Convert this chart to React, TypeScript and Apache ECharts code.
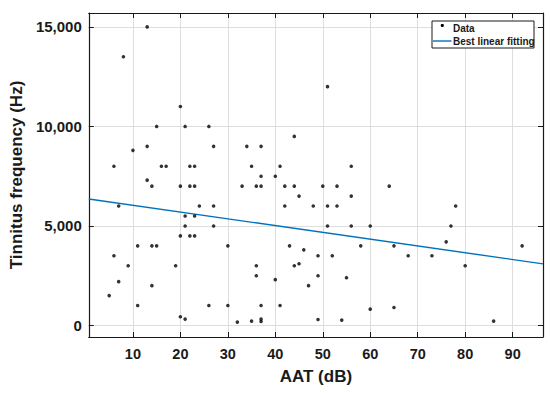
import React, { useEffect, useRef } from "react";
import * as echarts from "echarts";

// AAT (dB) and tinnitus frequency (Hz) per subject
const aatValues = [
  13, 8, 20, 15, 21, 51, 26, 13, 10, 6, 16, 17, 22, 23, 13, 14, 20, 22, 23, 7,
  24, 21, 23, 21, 20, 22, 23, 11, 14, 15, 44, 27, 34, 37, 35, 41, 56, 37, 40, 33,
  36, 37, 42, 44, 50, 53, 45, 56, 27, 42, 48, 51, 53, 27, 51, 56, 60, 30, 43, 46,
  58, 64, 78, 77, 76, 65, 92, 6, 9, 19, 7, 14, 5, 11, 20, 21, 49, 52, 36, 44,
  45, 36, 49, 40, 55, 47, 26, 30, 37, 41, 60, 32, 35, 37, 37, 49, 54, 68, 73, 80,
  65, 86,
];
const freqValues = [
  15000, 13500, 11000, 10000, 10000, 12000, 10000, 9000, 8800, 8000, 8000, 8000, 8000, 8000, 7300, 7000, 7000, 7000, 7000, 6000,
  6000, 5500, 5500, 5000, 4500, 4500, 4500, 4000, 4000, 4000, 9500, 9000, 9000, 9000, 8000, 8000, 8000, 7500, 7500, 7000,
  7000, 7000, 7000, 7000, 7000, 7000, 6500, 6500, 6000, 6000, 6000, 6000, 6000, 5000, 5000, 5000, 5000, 4000, 4000, 3800,
  4000, 7000, 6000, 5000, 4200, 4000, 4000, 3500, 3000, 3000, 2200, 2000, 1500, 1000, 440, 320, 3500, 3500, 3000, 3000,
  3100, 2500, 2500, 2300, 2400, 2000, 1000, 1000, 1000, 1000, 820, 170, 220, 320, 200, 300, 270, 3500, 3500, 3000,
  900, 220,
];
// Best linear fitting line, endpoints at the axis limits
const fitAat = [0.7, 96.4];
const fitFreq = [6356, 3095];

const xMin = 0.7;
const xMax = 96.4;
const yMin = -580;
const yMax = 15700;

export default function App() {
  const ref = useRef<HTMLDivElement>(null);
  useEffect(() => {
    const chart = echarts.init(ref.current!, null, { renderer: "svg" });
    const font = "'Liberation Sans', Arial, Helvetica, sans-serif";
    const ink = "#1a1a1a";
    const gridColor = "#dedede";
    const blue = "#0072BD";

    const scatterData = aatValues.map((x, i) => [x, freqValues[i]]);
    const fitData = fitAat.map((x, i) => [x, fitFreq[i]]);

    const tickStyle = { show: true, inside: true, length: 5, lineStyle: { color: ink, width: 1 } };
    const lineStyle = { show: true, onZero: false, lineStyle: { color: ink, width: 1.2 } };

    chart.setOption({
      animation: false,
      backgroundColor: "#ffffff",
      grid: { left: 80, top: 13, width: 463, height: 324, containLabel: false },
      xAxis: [
        {
          type: "value",
          min: xMin,
          max: xMax,
          splitNumber: 10,
          position: "bottom",
          axisLine: lineStyle,
          axisTick: tickStyle,
          splitLine: { show: true, lineStyle: { color: gridColor, width: 1 } },
          axisLabel: {
            margin: 9,
            color: ink,
            fontFamily: font,
            fontWeight: "bold",
            fontSize: 14.5,
            formatter: (v: number) => (Math.abs(v % 10) < 1e-6 ? String(v) : ""),
          },
          name: "AAT (dB)",
          nameLocation: "middle",
          nameGap: 31,
          nameTextStyle: { color: ink, fontFamily: font, fontWeight: "bold", fontSize: 17 },
        },
        {
          type: "value",
          min: xMin,
          max: xMax,
          splitNumber: 10,
          position: "top",
          axisLine: lineStyle,
          axisTick: tickStyle,
          splitLine: { show: false },
          axisLabel: { show: false },
        },
      ],
      yAxis: [
        {
          type: "value",
          min: yMin,
          max: yMax,
          splitNumber: 3,
          position: "left",
          axisLine: lineStyle,
          axisTick: tickStyle,
          splitLine: { show: true, lineStyle: { color: gridColor, width: 1 } },
          axisLabel: {
            margin: 7,
            color: ink,
            fontFamily: font,
            fontWeight: "bold",
            fontSize: 15,
            formatter: (v: number) =>
              Math.abs(v % 5000) < 1e-6 ? v.toLocaleString("en-US") : "",
          },
          name: "Tinnitus frequency (Hz)",
          nameLocation: "middle",
          nameGap: 57,
          nameTextStyle: { color: ink, fontFamily: font, fontWeight: "bold", fontSize: 17 },
        },
        {
          type: "value",
          min: yMin,
          max: yMax,
          splitNumber: 3,
          position: "right",
          axisLine: lineStyle,
          axisTick: tickStyle,
          splitLine: { show: false },
          axisLabel: { show: false },
        },
      ],
      series: [
        {
          name: "Data",
          type: "scatter",
          xAxisIndex: 0,
          yAxisIndex: 0,
          data: scatterData,
          symbol: "circle",
          symbolSize: 3.6,
          itemStyle: { color: "#000000" },
          silent: true,
          z: 3,
        },
        {
          name: "Best linear fitting",
          type: "line",
          xAxisIndex: 0,
          yAxisIndex: 0,
          data: fitData,
          showSymbol: false,
          symbol: "none",
          lineStyle: { color: blue, width: 1.4 },
          silent: true,
          z: 2,
        },
      ],
      graphic: [
        {
          type: "rect",
          z: 100,
          shape: { x: 432, y: 21, width: 102, height: 27 },
          style: { fill: "#ffffff", stroke: ink, lineWidth: 1 },
        },
        {
          type: "circle",
          z: 101,
          shape: { cx: 442.3, cy: 25.5, r: 1.6 },
          style: { fill: "#000000" },
        },
        {
          type: "text",
          z: 101,
          style: {
            text: "Data",
            x: 453,
            y: 28.5,
            verticalAlign: "middle",
            align: "left",
            font: `bold 10px ${font}`,
            fill: ink,
          },
        },
        {
          type: "line",
          z: 101,
          shape: { x1: 433, y1: 41, x2: 451.5, y2: 41 },
          style: { stroke: blue, lineWidth: 1.4 },
        },
        {
          type: "text",
          z: 101,
          style: {
            text: "Best linear fitting",
            x: 453,
            y: 41.5,
            verticalAlign: "middle",
            align: "left",
            font: `bold 10px ${font}`,
            fill: ink,
          },
        },
      ],
    });
    return () => chart.dispose();
  }, []);
  return (
    <div
      ref={ref}
      style={{ position: "fixed", left: 0, top: 0, width: 550, height: 393, background: "#ffffff" }}
    />
  );
}
